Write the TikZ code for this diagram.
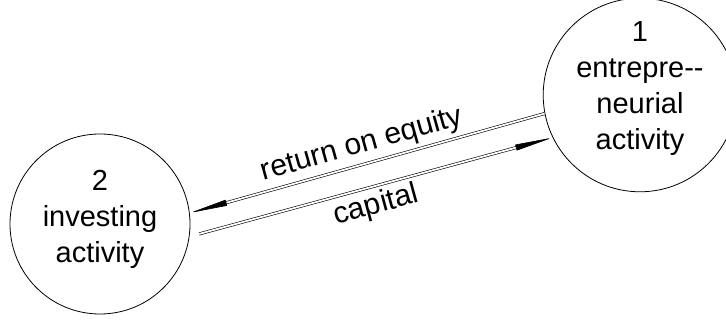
\documentclass[tikz,border=0pt]{standalone}
\usepackage{fontspec}
\setmainfont{Liberation Sans}
\usetikzlibrary{arrows.meta}

\begin{document}
\begin{tikzpicture}[x=1pt,y=-1pt,line join=round,
    >={Triangle[length=38pt,width=6pt]},
    activity/.style={draw,circle,line width=0.8pt,minimum size=180pt,inner sep=0pt,
      align=center,font=\fontsize{29}{36}\selectfont},
    flow/.style={double,double distance=1.8pt,line width=0.6pt},
    flowlabel/.style={sloped,inner sep=5pt,font=\fontsize{30}{34}\selectfont}]
  % Match the artwork frame of the scanned figure.
  \useasboundingbox (0,0) rectangle (726,320);

  % The two activities; extra depth lifts the text a little.
  \node[activity,text depth=18pt] (ent) at (640,95) {1\\entrepre-{}-\\neurial\\activity};
  \node[activity,text depth=16pt] (inv) at (100,224) {2\\investing\\activity};

  % Flows between them, one each way.
  \draw[flow,<-] (inv.7) -- node[above,flowlabel] {return on equity} (ent.191);
  \draw[flow,->,shorten <=10pt] (inv.-8) -- node[below,flowlabel] {capital} (ent.206);
\end{tikzpicture}
\end{document}
